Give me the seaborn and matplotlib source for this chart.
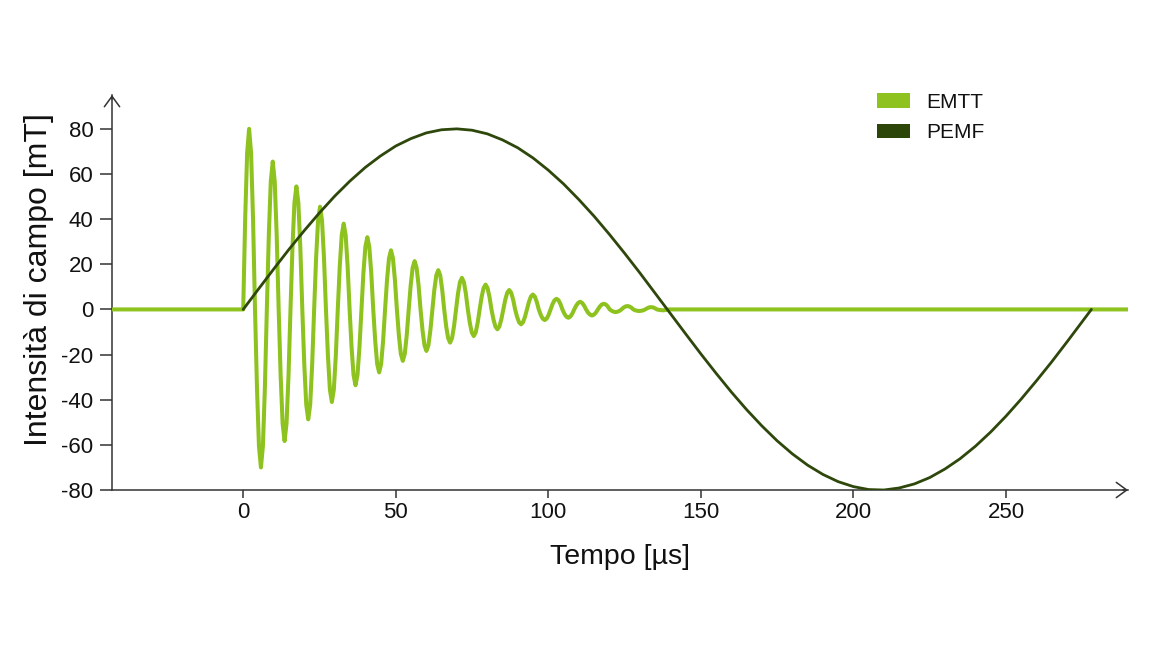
import numpy as np
import pandas as pd
import matplotlib
matplotlib.use("Agg")
import matplotlib.pyplot as plt
import seaborn as sns
from matplotlib.patches import Patch

# ---------------- data ----------------
series_names = ["EMTT", "PEMF"]

# EMTT: damped ringing, sampled every emtt_sample_us starting at t = 0
emtt_sample_us = 0.64583
emtt_ring = [
    0, 40.0, 69.3, 80.0, 69.3, 40.0, 0, -35.0, -60.6, -70.0, -60.6, -35.0,
    0, 32.8, 56.7, 65.5, 56.7, 32.8, 0, -29.2, -50.5, -58.3, -50.5, -29.2,
    0, 27.3, 47.2, 54.5, 47.2, 27.3, 0, -24.4, -42.2, -48.7, -42.2, -24.4,
    0, 22.8, 39.4, 45.5, 39.4, 22.8, 0, -20.5, -35.5, -41.0, -35.5, -20.5,
    0, 19.0, 32.9, 38.0, 32.9, 19.0, 0, -16.8, -29.1, -33.6, -29.1, -16.8,
    0, 16.0, 27.7, 32.0, 27.7, 16.0, 0, -14.0, -24.2, -27.9, -24.2, -14.0,
    0, 13.1, 22.7, 26.2, 22.7, 13.1, 0, -11.4, -19.7, -22.8, -19.7, -11.4,
    0, 10.7, 18.5, 21.4, 18.5, 10.7, 0, -9.2, -15.9, -18.4, -15.9, -9.2,
    0, 8.7, 15.1, 17.4, 15.1, 8.7, 0, -7.4, -12.7, -14.7, -12.7, -7.4,
    0, 7.0, 12.1, 14.0, 12.1, 7.0, 0, -5.9, -10.2, -11.8, -10.2, -5.9,
    0, 5.5, 9.5, 11.0, 9.5, 5.5, 0, -4.4, -7.6, -8.8, -7.6, -4.4,
    0, 4.3, 7.4, 8.6, 7.4, 4.3, 0, -3.3, -5.7, -6.6, -5.7, -3.3,
    0, 3.3, 5.7, 6.6, 5.7, 3.3, 0, -2.4, -4.1, -4.7, -4.1, -2.4,
    0, 2.4, 4.1, 4.7, 4.1, 2.4, 0, -1.9, -3.2, -3.7, -3.2, -1.9,
    0, 1.7, 2.9, 3.4, 2.9, 1.7, 0, -1.4, -2.3, -2.7, -2.3, -1.4,
    0, 1.3, 2.2, 2.5, 2.2, 1.3, 0, -0.6, -1.0, -1.2, -1.0, -0.6,
    0, 0.8, 1.3, 1.5, 1.3, 0.8, 0, -0.4, -0.6, -0.7, -0.6, -0.4,
    0, 0.5, 0.9, 1.0, 0.9, 0.5, 0, -0.2, -0.3, -0.4, -0.3, -0.2,
    0,
]

# PEMF: one slow sine cycle, sampled every 5 us starting at t = 0
pemf_sample_us = 5
pemf_cycle = [
    0, 9.0, 17.9, 26.6, 34.9, 42.8, 50.2, 56.9, 62.9, 68.0,
    72.4, 75.7, 78.2, 79.6, 80.0, 79.4, 77.8, 75.1, 71.6, 67.1,
    61.7, 55.6, 48.7, 41.3, 33.3, 24.9, 16.2, 7.2, -1.8, -10.8,
    -19.7, -28.3, -36.6, -44.4, -51.6, -58.2, -64.0, -69.0, -73.1, -76.3,
    -78.5, -79.8, -80.0, -79.1, -77.3, -74.5, -70.7, -66.1, -60.6, -54.3,
    -47.3, -39.7, -31.6, -23.2, -14.4, -5.4,
]
pemf_end_us = 278

t_start_us = -43
t_end_us = 290

x_ticks = [0, 50, 100, 150, 200, 250]
y_ticks = [-80, -60, -40, -20, 0, 20, 40, 60, 80]

x_label = "Tempo [µs]"
y_label = "Intensità di campo [mT]"

# ---------------- build tables ----------------
emtt_t = np.r_[t_start_us, np.arange(len(emtt_ring)) * emtt_sample_us, t_end_us]
emtt_v = np.r_[0, emtt_ring, 0]
pemf_t = np.r_[np.arange(len(pemf_cycle)) * pemf_sample_us, pemf_end_us]
pemf_v = np.r_[pemf_cycle, 0]

df_emtt = pd.DataFrame({"t": emtt_t, "v": emtt_v})
df_pemf = pd.DataFrame({"t": pemf_t, "v": pemf_v})

# ---------------- style ----------------
sns.set_theme(style="white")
plt.rcParams["font.family"] = ["Liberation Sans", "DejaVu Sans"]

c_emtt = "#8dc21f"
c_pemf = "#2e470b"
c_axis = "#333333"
c_text = "#111111"

W, H = 1156, 650
fig = plt.figure(figsize=(W / 100, H / 100), dpi=100)
fig.patch.set_facecolor("white")
ax = fig.add_axes([112 / W, 160 / H, 1016 / W, 395 / H])
ax.set_facecolor("white")

sns.lineplot(data=df_emtt, x="t", y="v", ax=ax, color=c_emtt, linewidth=2.9,
             estimator=None, sort=False, zorder=3)
sns.lineplot(data=df_pemf, x="t", y="v", ax=ax, color=c_pemf, linewidth=2.0,
             estimator=None, sort=False, zorder=4)
for ln in ax.get_lines():
    ln.set_solid_joinstyle("round")
    ln.set_solid_capstyle("round")

ax.set_xlim(-43, 290)
ax.set_ylim(-80, 95)
ax.set_xticks(x_ticks)
ax.set_yticks(y_ticks)
ax.set_xticklabels([str(v) for v in x_ticks])
ax.set_yticklabels([str(v) for v in y_ticks])

for s in ["top", "right"]:
    ax.spines[s].set_visible(False)
for s in ["left", "bottom"]:
    ax.spines[s].set_color(c_axis)
    ax.spines[s].set_linewidth(1.1)

ax.tick_params(axis="both", direction="out", color=c_axis, width=1.1,
               labelcolor=c_text, labelsize=16, bottom=True, left=True)
ax.tick_params(axis="y", length=8.5, pad=5)
ax.tick_params(axis="x", length=6, pad=3)
ax.grid(False)

# arrow heads on the axes
arrow_kw = dict(arrowstyle="->,head_length=0.3,head_width=0.22", color=c_axis,
                lw=1.1, shrinkA=0, shrinkB=0, mutation_scale=25)
ax.annotate("", xy=(0, 1), xytext=(0, 0.99), xycoords="axes fraction",
            arrowprops=arrow_kw, annotation_clip=False)
ax.annotate("", xy=(1, 0), xytext=(0.995, 0), xycoords="axes fraction",
            arrowprops=arrow_kw, annotation_clip=False)

ax.set_xlabel(x_label, fontsize=20.5, color=c_text)
ax.set_ylabel(y_label, fontsize=23, color=c_text)
ax.xaxis.set_label_coords(0.5, (490 - 557) / 395)
ax.xaxis.label.set_va("center")
ax.yaxis.set_label_coords((39 - 112) / 1016, (490 - 280) / 395)
ax.yaxis.label.set_va("center")

handles = [Patch(facecolor=c_emtt, edgecolor="none", label=series_names[0]),
           Patch(facecolor="#2c4508", edgecolor="none", label=series_names[1])]
leg = fig.legend(handles=handles, loc="upper left", bbox_to_anchor=(877 / W, 1 - 93 / H),
                 frameon=False, fontsize=15, labelcolor=c_text,
                 handlelength=1.6, handleheight=0.7,
                 handletextpad=0.75, labelspacing=0.55, borderpad=0, borderaxespad=0)

fig.savefig("out.png", dpi=100, facecolor="white")
